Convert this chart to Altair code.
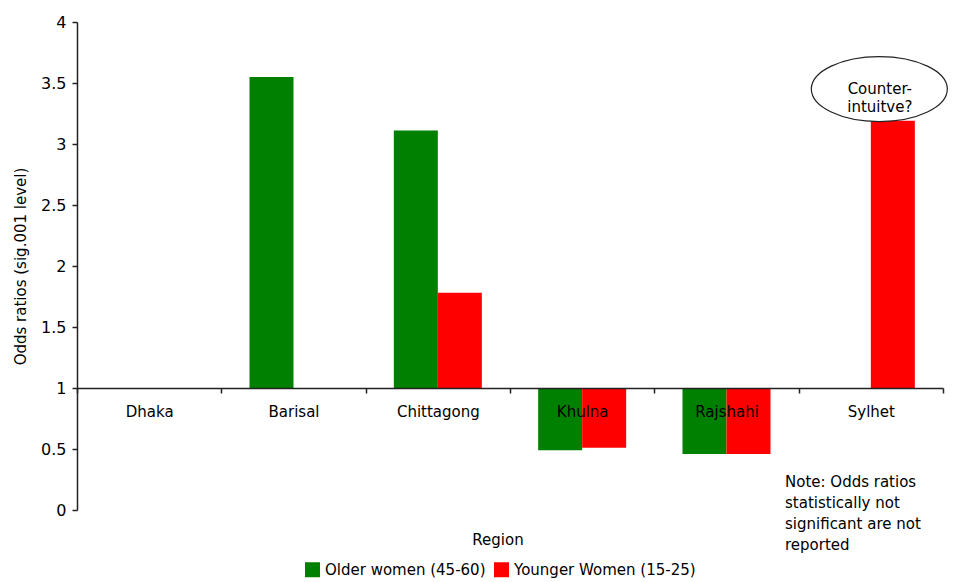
import altair as alt
import pandas as pd

regions = ["Dhaka", "Barisal", "Chittagong", "Khulna", "Rajshahi", "Sylhet"]
older = [None, 3.55, 3.11, 0.49, 0.46, None]
younger = [None, None, 1.78, 0.51, 0.46, 3.19]
groups = ["Older women (45-60)", "Younger Women (15-25)"]
colors = ["#008000", "#FF0000"]
baseline = 1.0
y_ticks = [0, 0.5, 1, 1.5, 2, 2.5, 3, 3.5, 4]
callout_text = "Counter-\nintuitve?"
callout_region = "Sylhet"
callout_y = 3.45
note_text = "Note: Odds ratios\nstatistically not\nsignificant are not\nreported"
x_title = "Region"
y_title = "Odds ratios (sig.001 level)"

rows = []
for r, o, yv in zip(regions, older, younger):
    if o is not None:
        rows.append({"region": r, "group": groups[0], "value": o, "base": baseline})
    if yv is not None:
        rows.append({"region": r, "group": groups[1], "value": yv, "base": baseline})
df = pd.DataFrame(rows)

W, H = 866, 488
FONT = "DejaVu Sans"
FS = 15

xscale = alt.Scale(domain=regions, paddingInner=0, paddingOuter=0)
yscale = alt.Scale(domain=[0, 4], nice=False, zero=False)

bars = alt.Chart(df).mark_bar().encode(
    x=alt.X("region:N", scale=xscale, sort=regions,
            axis=alt.Axis(title=None, orient="bottom", offset=-H / 4, labelAngle=0,
                          tickBand="extent", domainColor="#222222", tickColor="#222222",
                          tickSize=5, labelPadding=11, labelFont=FONT, labelFontSize=FS,
                          labelColor="black", zindex=1, domainWidth=1.5, tickWidth=1.5)),
    xOffset=alt.XOffset("group:N", scale=alt.Scale(domain=groups, paddingInner=0,
                                                   paddingOuter=0.64)),
    y=alt.Y("value:Q", scale=yscale,
            axis=alt.Axis(values=y_ticks, format="~g", title=y_title, grid=False,
                          tickSize=5, labelPadding=6, labelFont=FONT, labelFontSize=16,
                          labelColor="black", titleFont=FONT, titleFontSize=FS,
                          titleFontWeight="normal", titleColor="black", titlePadding=12,
                          domainColor="#222222", tickColor="#222222", domainWidth=1.5,
                          tickWidth=1.5)),
    y2="base:Q",
    color=alt.Color("group:N", scale=alt.Scale(domain=groups, range=colors),
                    legend=alt.Legend(title=None, orient="none", direction="horizontal",
                                      legendX=228, legendY=540, symbolType="square",
                                      symbolSize=225, symbolStrokeWidth=0,
                                      labelFont=FONT, labelFontSize=FS, labelColor="black",
                                      labelLimit=0, columnPadding=8, labelOffset=5)),
)

call_df = pd.DataFrame({"region": [callout_region], "y": [callout_y], "text": [callout_text]})
ellipse_path = "M -0.875 0 A 1 0.478 0 1 0 1.125 0 A 1 0.478 0 1 0 -0.875 0 Z"
ellipse = alt.Chart(call_df).mark_point(shape=ellipse_path, size=18496, filled=True,
                                        fill="white", stroke="#222222", strokeWidth=1.2,
                                        opacity=1).encode(
    x=alt.X("region:N", scale=xscale),
    y=alt.Y("y:Q", scale=yscale),
)
callout = alt.Chart(call_df).mark_text(font=FONT, fontSize=FS, color="black",
                                       lineBreak="\n", lineHeight=18, dx=9,
                                       baseline="middle", align="center").encode(
    x=alt.X("region:N", scale=xscale),
    y=alt.Y("y:Q", scale=yscale),
    text="text:N",
)

note = alt.Chart(pd.DataFrame({"t": [note_text]})).mark_text(
    font=FONT, fontSize=15, color="black", lineBreak="\n", lineHeight=21,
    align="left", baseline="top").encode(
    x=alt.value(708), y=alt.value(453), text="t:N")

xt = alt.Chart(pd.DataFrame({"t": [x_title]})).mark_text(
    font=FONT, fontSize=FS, color="black", align="center", baseline="middle").encode(
    x=alt.value(421), y=alt.value(518), text="t:N")

chart = alt.layer(bars, ellipse, callout, note, xt).properties(
    width=W, height=H,
    autosize=alt.AutoSizeParams(type="none"),
    padding={"left": 77, "top": 22, "right": 13, "bottom": 72},
).configure_view(stroke=None)

chart.save("out.html", embed_options={"renderer": "svg", "actions": False})
